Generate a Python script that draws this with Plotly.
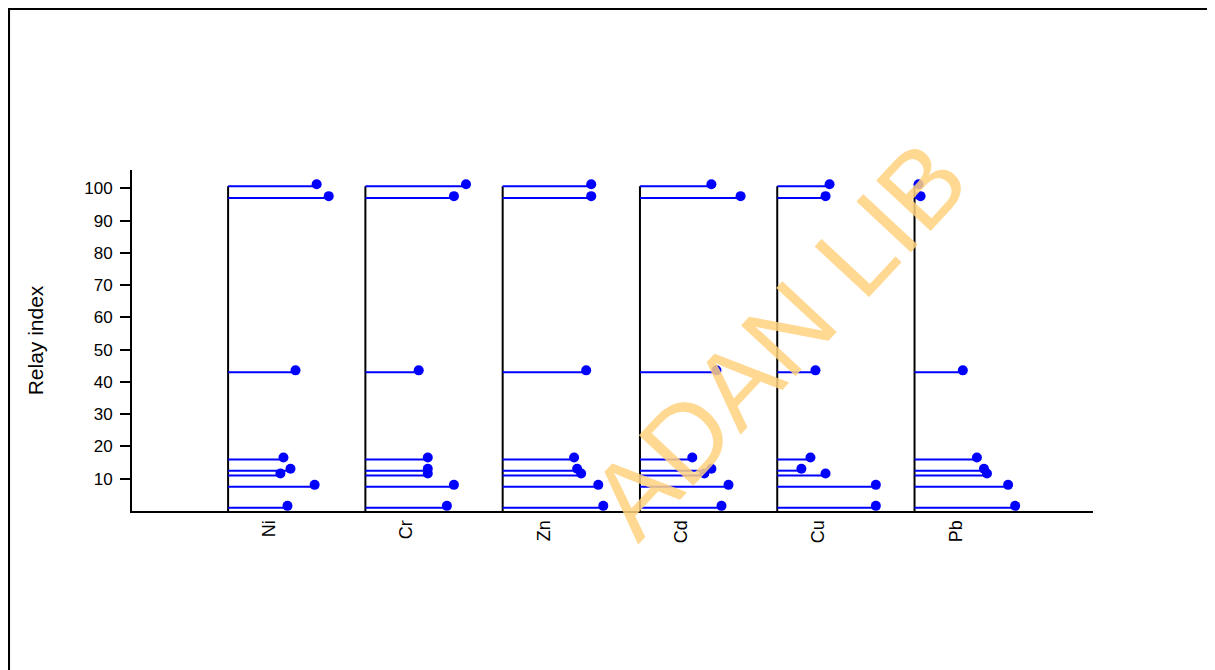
import plotly.graph_objects as go

# ---- data ----
metals = ["Ni", "Cr", "Zn", "Cd", "Cu", "Pb"]
relay_levels = [100.7, 97.0, 43.0, 16.0, 12.5, 11.0, 7.5, 1.0]
ni = [88, 100, 67, 55, 62, 52, 86, 59]
cr = [100, 88, 53, 62, 62, 62, 88, 81]
zn = [88, 88, 83, 71, 74, 78, 95, 100]
cd = [71, 100, 76, 52, 71, 64, 88, 81]
cu = [52, 48, 38, 33, 24, 48, 98, 98]
pb = [4, 6, 48, 62, 69, 72, 93, 100]
y_ticks = [10, 20, 30, 40, 50, 60, 70, 80, 90, 100]

series = [ni, cr, zn, cd, cu, pb]

# ---- styling / scale constants ----
BLUE = "#0000FF"
FONT = "Arial, Liberation Sans, sans-serif"
LEN_SCALE = 0.733 / 100.0   # category units per value unit
DOT_LIFT = 0.6               # small upward offset of the dot (y units)

fig = go.Figure()

# vertical black stems per metal
vx, vy = [], []
for i, _ in enumerate(metals):
    pos = i + 1
    vx += [pos, pos, None]
    vy += [0, max(relay_levels), None]
fig.add_trace(go.Scatter(x=vx, y=vy, mode="lines",
                         line=dict(color="black", width=2),
                         hoverinfo="skip", showlegend=False))

# horizontal blue lines + dots
for i, vals in enumerate(series):
    pos = i + 1
    hx, hy, mx, my = [], [], [], []
    for lvl, v in zip(relay_levels, vals):
        end = pos + v * LEN_SCALE
        hx += [pos, end, None]
        hy += [lvl, lvl, None]
        mx.append(end)
        my.append(lvl + DOT_LIFT)
    fig.add_trace(go.Scatter(x=hx, y=hy, mode="lines",
                             line=dict(color=BLUE, width=2),
                             hoverinfo="skip", showlegend=False))
    fig.add_trace(go.Scatter(x=mx, y=my, mode="markers",
                             marker=dict(color=BLUE, size=10, line=dict(width=0)),
                             name=metals[i], showlegend=False))

# figure geometry (page has an 8px body margin)
W, H = 1207, 662
L, R, T, B = 124, 122, 162, 159
pw, ph = W - L - R, H - T - B
def px_to_paper_x(px):
    return (px - L) / pw
def px_to_paper_y(py):
    return (H - B - py) / ph

# outer frame
fig.add_shape(type="rect", xref="paper", yref="paper",
              x0=px_to_paper_x(0.8), x1=px_to_paper_x(1205),
              y0=px_to_paper_y(700), y1=px_to_paper_y(0.8),
              line=dict(color="black", width=2.5), fillcolor="rgba(0,0,0,0)",
              layer="below")

# watermark
fig.add_annotation(text="ADAN LIB", xref="paper", yref="paper",
                   x=px_to_paper_x(770), y=px_to_paper_y(331),
                   xanchor="center", yanchor="middle", showarrow=False,
                   textangle=-47, opacity=0.85,
                   font=dict(family=FONT, size=108, color="#FFD27F"))

fig.update_layout(
    width=W, height=H,
    margin=dict(l=L, r=R, t=T, b=B, autoexpand=False),
    paper_bgcolor="white", plot_bgcolor="white",
    font=dict(family=FONT, size=16, color="black"),
    showlegend=False,
)
fig.update_xaxes(range=[0.3, 7.3], tickvals=[i + 1.3 for i in range(len(metals))],
                 ticktext=metals, tickangle=-90, ticks="", showgrid=False,
                 zeroline=False, showline=True, linecolor="black", linewidth=2,
                 tickfont=dict(size=18, family=FONT))
fig.update_yaxes(range=[0, 105.7], tickvals=y_ticks, ticks="outside", ticklen=10,
                 tickwidth=2, tickcolor="black", showgrid=False, zeroline=False,
                 showline=True, linecolor="black", linewidth=2,
                 ticklabelstandoff=4,
                 tickfont=dict(size=17, family=FONT),
                 title=dict(text="Relay index", standoff=35,
                            font=dict(size=21, family=FONT)))

fig.write_html("out.html")
